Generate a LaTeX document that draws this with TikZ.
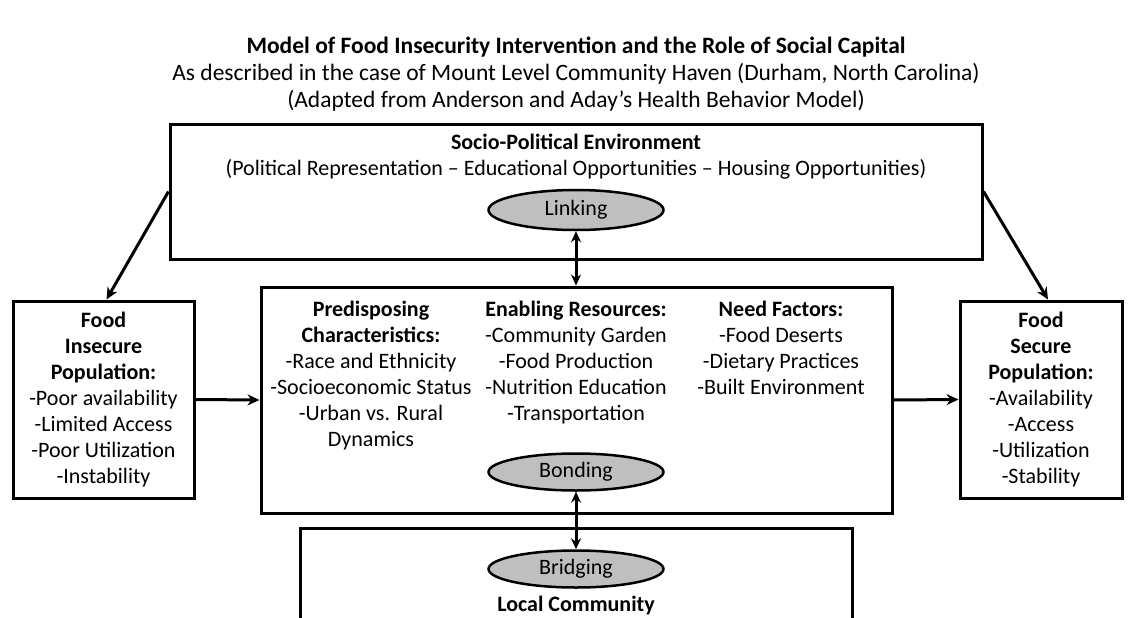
\documentclass[tikz,border=0pt]{standalone}
\usepackage{fontspec}
\setmainfont{Carlito}
\usepackage{tikz}
\usetikzlibrary{shapes,arrows,positioning,calc,arrows.meta}

\begin{document}
\begin{tikzpicture}[x=1pt,y=-1pt,
    every node/.style={font=\fontsize{22}{26}\selectfont},
    box/.style={draw, line width=3pt, align=center, inner sep=0pt},
    bubble/.style={draw, ellipse, fill=gray!50, line width=2.5pt, minimum width=175pt, minimum height=37pt, inner sep=0pt},
    txt/.style={align=center, inner sep=0pt},
    arr/.style={line width=3pt, -{Stealth[length=12pt,width=11pt]}},
    dbl/.style={line width=3pt, {Stealth[length=11pt,width=10pt]}-{Stealth[length=11pt,width=10pt]}}]
    \useasboundingbox (0,0) rectangle (1129,618);
    \clip (0,0) rectangle (1129,618);

    % Title
    \node[txt, font=\fontsize{23.5}{27}\selectfont] (title) at (576,74) {\textbf{Model of Food Insecurity Intervention and the Role of Social Capital}\\As described in the case of Mount Level Community Haven (Durham, North Carolina)\\(Adapted from Anderson and Aday’s Health Behavior Model)};

    % Socio-political environment
    \node[box, minimum width=812pt, minimum height=135pt] (env) at (576,191.5) {};
    \node[txt] (envtext) at (576,157) {\textbf{Socio-Political Environment}\\(Political Representation -- Educational Opportunities -- Housing Opportunities)};
    \node[bubble, minimum height=40pt] (linking) at (576,210) {Linking};

    % Middle box
    \node[box, minimum width=631pt, minimum height=226pt] (mid) at (576.5,400) {};
    \node[txt, anchor=north] (predisp) at (371,301) {\textbf{Predisposing}\\\textbf{Characteristics:}\\-Race and Ethnicity\\-Socioeconomic Status\\-Urban vs. Rural\\Dynamics};
    \node[txt, anchor=north] (enabling) at (576,301) {\textbf{Enabling Resources:}\\-Community Garden\\-Food Production\\-Nutrition Education\\-Transportation};
    \node[txt, anchor=north] (need) at (781,301) {\textbf{Need Factors:}\\-Food Deserts\\-Dietary Practices\\-Built Environment};
    \node[bubble] (bonding) at (576,472) {Bonding};

    % Side boxes
    \node[box, minimum width=181pt, minimum height=197pt] (insecure) at (103.5,399.5) {\textbf{Food}\\\textbf{Insecure}\\\textbf{Population:}\\-Poor availability\\-Limited Access\\-Poor Utilization\\-Instability};
    \node[box, minimum width=162pt, minimum height=197pt] (secure) at (1041,399.5) {\textbf{Food}\\\textbf{Secure}\\\textbf{Population:}\\-Availability\\-Access\\-Utilization\\-Stability};

    % Local community (runs off the bottom)
    \node[box, minimum width=552pt, minimum height=200pt, anchor=north] (community) at (576,527) {};
    \node[bubble] (bridging) at (576,569) {Bridging};
    \node[txt] (commtext) at (576,606) {\textbf{Local Community}};

    % Connectors
    \draw[arr] (env.west) -- ([xshift=3pt]insecure.north);
    \draw[arr] (env.east) -- ([xshift=7pt]secure.north);
    \draw[arr] (insecure.east) -- (mid.west);
    \draw[arr] (mid.east) -- (secure.west);
    \draw[dbl] (linking.south) -- (linking.south |- mid.north);
    \draw[dbl] (bonding.south) -- (bridging.north);

\end{tikzpicture}
\end{document}
